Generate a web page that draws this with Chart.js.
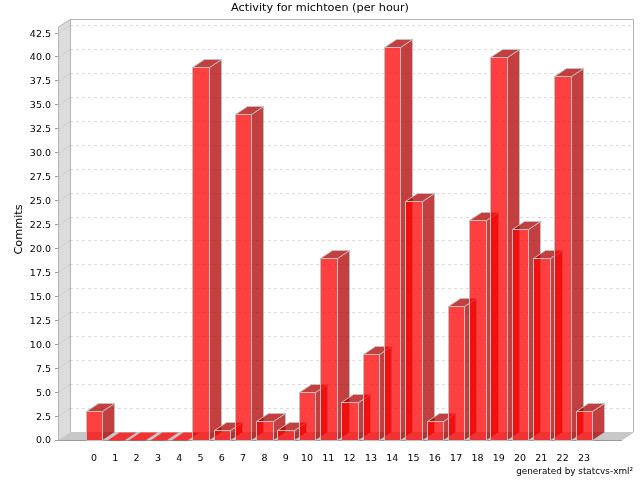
<!DOCTYPE html>
<html><head><meta charset="utf-8">
<style>html,body{margin:0;padding:0;background:#fff}canvas{display:block}</style>
<script src="https://cdn.jsdelivr.net/npm/chart.js@4/dist/chart.umd.min.js"></script>
</head><body><canvas id="c" width="640" height="480"></canvas>
<script>
const chartTitle = "Activity for michtoen (per hour)";
const yTitle = "Commits";
const footerText = "generated by statcvs-xml²";
const hours = [0,1,2,3,4,5,6,7,8,9,10,11,12,13,14,15,16,17,18,19,20,21,22,23];
const commits = [3,0,0,0,0,39,1,34,2,1,5,19,4,9,41,25,2,14,23,40,22,19,38,3];
const yTicks = [0,2.5,5,7.5,10,12.5,15,17.5,20,22.5,25,27.5,30,32.5,35,37.5,40,42.5];

const DX = 12, DY = 8;
const FONT = '"DejaVu Sans"';
const FRONT = 'rgba(255,0,0,0.75)', SHADE = 'rgba(176,0,0,0.75)', EDGE = '#c0c0c0';

function poly(ctx, pts, fill, stroke){
  ctx.beginPath();
  pts.forEach((p,i)=> i?ctx.lineTo(p[0],p[1]):ctx.moveTo(p[0],p[1]));
  ctx.closePath();
  if(fill){ctx.fillStyle=fill;ctx.fill();}
  if(stroke){ctx.strokeStyle=stroke;ctx.lineWidth=1;ctx.stroke();}
}

const box3d = {
  id:'box3d',
  beforeDraw(chart){
    const ctx=chart.ctx, a=chart.chartArea, y=chart.scales.y;
    const L=a.left,R=a.right,T=a.top,B=a.bottom;
    ctx.save();
    poly(ctx,[[L,T],[L+DX,T-DY],[L+DX,B-DY],[L,B]],'#dcdcdc');
    poly(ctx,[[L,B],[L+DX,B-DY],[R+DX,B-DY],[R,B]],'#c8c8c8');
    ctx.setLineDash([3,3]);
    ctx.lineWidth=1;
    yTicks.forEach(v=>{
      if(v===0)return;
      const p=Math.round(y.getPixelForValue(v))+.5;
      ctx.strokeStyle='#dcdcdc';
      ctx.beginPath();ctx.moveTo(L+DX,p-DY);ctx.lineTo(R+DX,p-DY);ctx.stroke();
      ctx.strokeStyle='#c8c8c8';
      ctx.beginPath();ctx.moveTo(L,p);ctx.lineTo(L+DX,p-DY);ctx.stroke();
    });
    ctx.setLineDash([]);
    ctx.strokeStyle='#b4b4b4';
    ctx.beginPath();
    ctx.moveTo(L+.5,T);ctx.lineTo(L+DX+.5,T-DY+.5);ctx.lineTo(R+DX+.5,T-DY+.5);ctx.lineTo(R+DX+.5,B-DY);ctx.lineTo(R+.5,B);
    ctx.moveTo(L+DX+.5,T-DY);ctx.lineTo(L+DX+.5,B-DY);
    ctx.stroke();
    ctx.restore();
  },
  beforeDatasetDraw(chart,args){
    const ctx=chart.ctx, meta=args.meta;
    ctx.save();
    meta.data.forEach(el=>{
      const lx=Math.round(el.x-el.width/2)+.5, rx=Math.round(el.x+el.width/2)+.5;
      const t=Math.round(el.y)+.5, b=Math.round(el.base)+.5;
      const zero=Math.abs(el.y-el.base)<1;
      if(zero){
        poly(ctx,[[lx,b],[rx,b],[rx+DX,b-DY],[lx+DX,b-DY]],FRONT);
        return;
      }
      poly(ctx,[[lx,t],[rx,t],[rx,b],[lx,b]],FRONT,EDGE);
      poly(ctx,[[rx,t],[rx+DX,t-DY],[rx+DX,b-DY],[rx,b]],SHADE,EDGE);
      poly(ctx,[[lx,t],[lx+DX,t-DY],[rx+DX,t-DY],[rx,t]],SHADE,EDGE);
    });
    ctx.restore();
    return false;
  },
  afterDraw(chart){
    const ctx=chart.ctx;
    ctx.save();
    ctx.font='8.85px '+FONT;
    ctx.fillStyle='#000';ctx.textAlign='right';ctx.textBaseline='middle';
    ctx.fillText(footerText,633,472);
    ctx.translate(19,229.5);ctx.rotate(-Math.PI/2);
    ctx.font='11.25px '+FONT;ctx.textAlign='center';
    ctx.fillText(yTitle,0,0);
    ctx.restore();
  }
};

new Chart(document.getElementById('c'),{
  type:'bar',
  plugins:[box3d],
  data:{labels:hours,datasets:[{
    data:commits,
    backgroundColor:FRONT,
    borderColor:EDGE,
    borderWidth:1,
    barThickness:16.5
  }]},
  options:{
    responsive:false,animation:false,
    layout:{padding:{left:7,right:7,top:0,bottom:0}},
    plugins:{
      legend:{display:false},tooltip:{enabled:false},
      title:{display:true,text:chartTitle,color:'#000',font:{family:FONT,size:11.25,weight:'normal'},padding:{top:1,bottom:12.5}}
    },
    scales:{
      x:{
        type:'linear',min:-1.69,max:24.74,offset:false,
        afterFit(s){s.height=40;},
        afterBuildTicks(s){s.ticks=hours.map(v=>({value:v}));},
        grid:{display:false},
        border:{display:true,color:'#999999'},
        ticks:{color:'#000',font:{family:FONT,size:9.5},padding:5,autoSkip:false,maxRotation:0,callback:v=>String(v)}
      },
      y:{
        min:0,max:43.13,
        afterFit(s){s.width=51;},
        afterBuildTicks(s){s.ticks=yTicks.map(v=>({value:v}));},
        grid:{display:true,drawOnChartArea:false,drawTicks:true,tickLength:3,color:'#999999'},
        border:{display:true,color:'#b4b4b4'},
        ticks:{color:'#000',font:{family:FONT,size:9.5},padding:4,labelOffset:1,autoSkip:false,callback:v=>v.toFixed(1)}
      },
      r2:{
        type:'linear',position:'right',display:true,
        afterFit(s){s.width=12;},
        grid:{display:false},border:{display:false},
        ticks:{display:false}
      }
    }
  }
});
</script></body></html>
